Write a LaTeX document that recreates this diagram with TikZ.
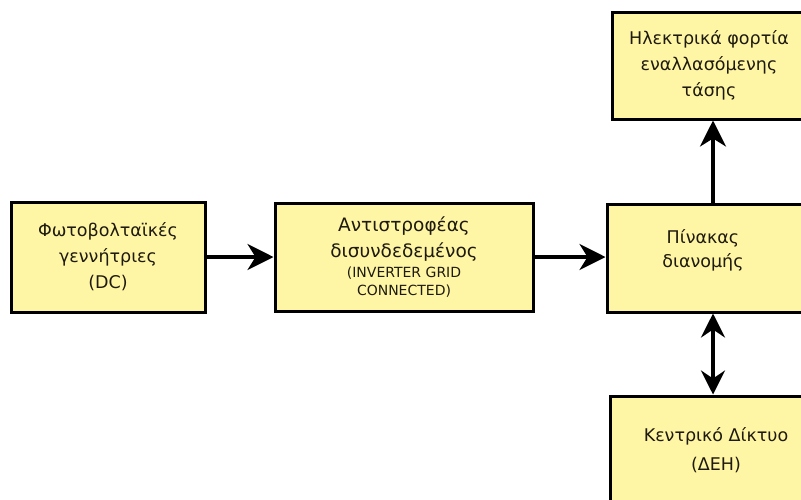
\documentclass[tikz,border=0pt]{standalone}
\usepackage{fontspec}
\setmainfont{DejaVu Sans}
\usetikzlibrary{arrows.meta}
\definecolor{boxfill}{RGB}{255,246,165}
\definecolor{txt}{RGB}{30,26,14}
\newcommand{\smalltxt}{\fontsize{14}{16}\selectfont}
\tikzset{
  blk/.style={draw=black, line width=3pt, fill=boxfill, text=txt, align=center,
    inner sep=0pt, font=\fontsize{17.5}{26}\selectfont},
  lbl/.style={text=txt, align=center, inner sep=0pt, font=\fontsize{17.5}{24}\selectfont},
  conn/.style={line width=3.4pt, -{Stealth[length=26pt,width=26pt,inset=8pt]}},
  bconn/.style={line width=3.4pt, {Stealth[length=24pt,width=24pt,inset=8pt]}-{Stealth[length=24pt,width=24pt,inset=8pt]}}
}
\begin{document}
\begin{tikzpicture}[x=1pt,y=-1pt]
\useasboundingbox (0,0) rectangle (801,499);
\clip (0,0) rectangle (801,499);
\fill[white] (0,0) rectangle (801,499);
\node[blk, minimum width=194pt, minimum height=110pt] (pv) at (108,257)
  {Φωτοβολταϊκές\\γεννήτριες\\(DC)};
\node[blk, minimum width=258pt, minimum height=108pt, font=\fontsize{18.5}{26}\selectfont] (inv) at (404,257)
  {Αντιστροφέας\\δισυνδεδεμένος\\[-6pt]\smalltxt (INVERTER GRID\\[-8pt]\smalltxt CONNECTED)};
\node[blk, minimum width=196pt, minimum height=108pt] (pin) at (705,258) {};
\node[lbl] (pintxt) at (703,250) {Πίνακας\\διανομής};
\node[blk, minimum width=194pt, minimum height=107pt] (load) at (709,65.5)
  {Ηλεκτρικά φορτία\\εναλλασόμενης\\τάσης};
\node[blk, minimum width=212pt, minimum height=108pt, font=\fontsize{17.5}{29}\selectfont] (grid) at (716,450)
  {Κεντρικό Δίκτυο\\(ΔΕΗ)};
\draw[conn] (pv.east) -- (inv.west);
\draw[conn] (inv.east) -- (inv.east -| pin.west);
\draw[conn] (pin.north -| 713,0) -- (load.south -| 713,0);
\draw[bconn] (pin.south -| 713,0) -- (grid.north -| 713,0);
\end{tikzpicture}
\end{document}
